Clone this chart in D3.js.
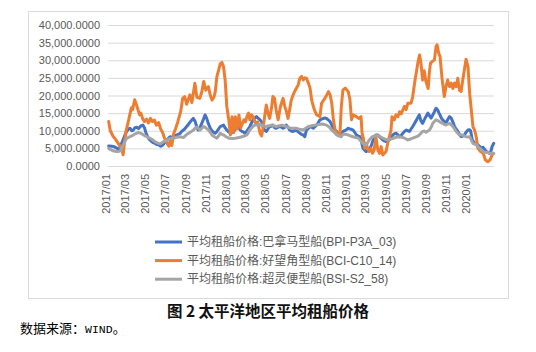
<!DOCTYPE html>
<html><head><meta charset="utf-8">
<script src="https://cdn.jsdelivr.net/npm/d3@7"></script>
<style>
html,body{margin:0;padding:0;background:#fff;}
svg{display:block;}
</style>
</head><body>
<svg id="chart" width="536" height="352"></svg>
<script>
// ---- data ----
const seriesNames = [
  "平均租船价格:巴拿马型船(BPI-P3A_03)",
  "平均租船价格:好望角型船(BCI-C10_14)",
  "平均租船价格:超灵便型船(BSI-S2_58)"
];
const seriesColors = ["#4472C4", "#ED7D31", "#A5A5A5"];
const yTickValues = [0, 5000, 10000, 15000, 20000, 25000, 30000, 35000, 40000];
const xTickLabels = ["2017/01","2017/03","2017/05","2017/07","2017/09","2017/11","2018/01","2018/03","2018/05","2018/07","2018/09","2018/11","2019/01","2019/03","2019/05","2019/07","2019/09","2019/11","2020/01"];
const titleText = "图 2 太平洋地区平均租船价格";

const bpiP3A03 = [
["2017-01-03",5700],["2017-01-13",5600],["2017-01-19",5500],["2017-01-29",5000],["2017-02-04",4600],["2017-02-09",6000],["2017-02-14",7000],["2017-02-18",7900],["2017-02-23",9200],["2017-02-27",9800],
["2017-03-04",10500],["2017-03-09",10700],["2017-03-14",10000],["2017-03-19",10200],["2017-03-23",10800],["2017-03-29",11000],["2017-04-04",10600],["2017-04-09",11200],["2017-04-13",11500],["2017-04-17",11600],
["2017-04-22",10800],["2017-04-26",9500],["2017-05-01",8400],["2017-05-05",7700],["2017-05-10",7300],["2017-05-14",6900],["2017-05-19",6600],["2017-05-24",6400],["2017-05-29",6100],["2017-06-04",6000],
["2017-06-10",5600],["2017-06-14",5800],["2017-06-19",6200],["2017-06-24",6800],["2017-06-29",7400],["2017-07-04",7900],["2017-07-09",8300],["2017-07-14",8200],["2017-07-19",8300],["2017-07-25",8700],
["2017-07-29",8800],["2017-08-04",9000],["2017-08-09",9300],["2017-08-13",9800],["2017-08-22",10500],["2017-08-28",11200],["2017-09-04",12000],["2017-09-08",12500],["2017-09-13",13100],["2017-09-17",13500],
["2017-09-23",12600],["2017-09-28",11000],["2017-10-02",10200],["2017-10-07",10800],["2017-10-13",12100],["2017-10-17",13000],["2017-10-23",14500],["2017-10-28",13500],["2017-11-02",12000],["2017-11-08",10700],
["2017-11-13",10000],["2017-11-19",9500],["2017-11-23",9300],["2017-11-28",9800],["2017-12-03",10500],["2017-12-08",11200],["2017-12-13",11400],["2017-12-18",11600],["2017-12-23",10800],["2017-12-28",10200],
["2018-01-03",9700],["2018-01-08",9300],["2018-01-13",9500],["2018-01-18",9800],["2018-01-23",10500],["2018-01-28",11200],["2018-02-03",10800],["2018-02-07",10200],["2018-02-12",9800],["2018-02-17",9600],
["2018-02-21",9300],["2018-02-26",9800],["2018-03-03",10500],["2018-03-08",11200],["2018-03-13",12200],["2018-03-18",13100],["2018-03-23",13600],["2018-03-28",14000],["2018-04-02",13600],["2018-04-08",13100],
["2018-04-13",12500],["2018-04-17",11200],["2018-04-22",10200],["2018-04-27",9800],["2018-05-02",10500],["2018-05-07",11200],["2018-05-12",11300],["2018-05-17",11600],["2018-05-22",10900],["2018-05-27",10700],
["2018-06-02",11000],["2018-06-07",11200],["2018-06-12",11000],["2018-06-17",10700],["2018-06-22",11000],["2018-06-27",11600],["2018-07-02",11000],["2018-07-07",10200],["2018-07-12",9900],["2018-07-17",9800],
["2018-07-22",10000],["2018-07-27",10200],["2018-08-02",9700],["2018-08-07",9300],["2018-08-12",9000],["2018-08-17",8800],["2018-08-22",8300],["2018-08-27",10200],["2018-09-02",10700],["2018-09-07",11200],
["2018-09-12",11000],["2018-09-17",10700],["2018-09-22",11200],["2018-09-27",11600],["2018-10-02",12300],["2018-10-07",13100],["2018-10-12",13300],["2018-10-17",13500],["2018-10-22",13600],["2018-10-27",13500],
["2018-11-02",13000],["2018-11-07",12600],["2018-11-12",11700],["2018-11-17",10700],["2018-11-22",10200],["2018-11-27",9800],["2018-12-02",9000],["2018-12-07",8800],["2018-12-12",9300],["2018-12-16",9800],
["2018-12-21",10000],["2018-12-26",10300],["2019-01-01",10700],["2019-01-06",10500],["2019-01-11",10400],["2019-01-16",10200],["2019-01-21",9500],["2019-01-26",8800],["2019-02-01",8500],["2019-02-06",8300],
["2019-02-10",7000],["2019-02-15",5000],["2019-02-20",4500],["2019-02-24",4100],["2019-03-01",4300],["2019-03-06",4500],["2019-03-11",5500],["2019-03-16",6900],["2019-03-21",7900],["2019-03-26",8800],
["2019-04-01",8800],["2019-04-06",8300],["2019-04-11",7900],["2019-04-16",7400],["2019-04-21",7100],["2019-04-26",6900],["2019-05-01",7100],["2019-05-06",7400],["2019-05-11",8000],["2019-05-16",8800],
["2019-05-21",9100],["2019-05-26",9300],["2019-06-01",8800],["2019-06-06",8300],["2019-06-11",8700],["2019-06-16",9300],["2019-06-21",9800],["2019-06-26",10200],["2019-07-01",10000],["2019-07-06",9800],
["2019-07-11",10500],["2019-07-16",11200],["2019-07-21",12000],["2019-07-26",12800],["2019-08-01",13800],["2019-08-05",14500],["2019-08-10",12800],["2019-08-15",12100],["2019-08-20",13100],["2019-08-25",14000],
["2019-08-31",15000],["2019-09-05",14300],["2019-09-10",13600],["2019-09-15",14500],["2019-09-20",15400],["2019-09-25",16400],["2019-09-30",15900],["2019-10-04",15000],["2019-10-07",14500],["2019-10-11",13600],
["2019-10-15",13100],["2019-10-20",12600],["2019-10-25",12100],["2019-10-30",13100],["2019-11-05",14000],["2019-11-10",13600],["2019-11-15",12500],["2019-11-20",11200],["2019-11-25",10500],["2019-11-30",9800],
["2019-12-05",9000],["2019-12-10",8300],["2019-12-15",8500],["2019-12-20",8800],["2019-12-25",9600],["2019-12-31",10200],["2020-01-05",10300],["2020-01-08",10000],["2020-01-13",7400],["2020-01-20",6400],
["2020-01-25",6200],["2020-01-30",6000],["2020-02-05",5500],["2020-02-10",5000],["2020-02-15",5300],["2020-02-19",4800],["2020-02-24",4100],["2020-02-29",3900],["2020-03-05",3600],["2020-03-10",4300],
["2020-03-13",5500],["2020-03-18",6400]
];

const bciC1014 = [
["2017-01-03",12600],["2017-01-08",10000],["2017-01-16",8500],["2017-01-25",7400],["2017-02-04",6000],["2017-02-10",5000],["2017-02-16",3200],["2017-02-20",6500],["2017-02-25",10000],["2017-03-01",11500],
["2017-03-07",14000],["2017-03-13",16500],["2017-03-17",16000],["2017-03-23",18800],["2017-03-28",17500],["2017-04-02",16000],["2017-04-07",14500],["2017-04-11",15000],["2017-04-16",13500],["2017-04-22",12600],
["2017-04-28",13300],["2017-05-04",12200],["2017-05-10",13500],["2017-05-16",12600],["2017-05-22",13000],["2017-05-28",11600],["2017-06-04",12300],["2017-06-10",10500],["2017-06-16",9500],["2017-06-22",7800],
["2017-06-26",7400],["2017-07-01",6200],["2017-07-05",5600],["2017-07-10",7500],["2017-07-14",5800],["2017-07-19",9000],["2017-07-25",10500],["2017-08-01",12500],["2017-08-07",14500],["2017-08-10",15500],
["2017-08-16",19200],["2017-08-22",19700],["2017-08-28",17500],["2017-09-07",20200],["2017-09-13",18000],["2017-09-22",23500],["2017-09-28",19500],["2017-10-07",19200],["2017-10-13",21000],["2017-10-19",24000],
["2017-10-25",21500],["2017-11-02",22500],["2017-11-08",20000],["2017-11-13",18700],["2017-11-19",19500],["2017-11-23",21100],["2017-11-28",25400],["2017-12-04",27500],["2017-12-08",29000],["2017-12-13",29400],
["2017-12-18",28200],["2017-12-23",24400],["2017-12-28",16900],["2018-01-03",13100],["2018-01-08",8800],["2018-01-13",14000],["2018-01-18",9500],["2018-01-23",14000],["2018-01-28",10500],["2018-02-03",14500],
["2018-02-08",10800],["2018-02-18",13100],["2018-02-23",12500],["2018-02-27",14000],["2018-03-04",15000],["2018-03-08",13100],["2018-03-13",14500],["2018-03-18",14000],["2018-03-25",12200],["2018-04-01",12500],
["2018-04-08",9300],["2018-04-13",8500],["2018-04-17",10700],["2018-04-22",14000],["2018-04-27",17300],["2018-05-02",15000],["2018-05-07",13500],["2018-05-13",16500],["2018-05-17",19700],["2018-05-22",19200],
["2018-05-27",15900],["2018-06-02",13100],["2018-06-09",16900],["2018-06-17",19200],["2018-06-22",17000],["2018-06-27",15500],["2018-07-02",13500],["2018-07-07",16000],["2018-07-12",18700],["2018-07-17",20000],
["2018-07-22",21100],["2018-07-27",22000],["2018-08-02",23000],["2018-08-07",24900],["2018-08-12",25400],["2018-08-17",24400],["2018-08-22",25000],["2018-08-27",24900],["2018-09-02",23500],["2018-09-07",22100],
["2018-09-12",18700],["2018-09-17",16900],["2018-09-22",15500],["2018-09-27",14500],["2018-10-02",14300],["2018-10-07",14000],["2018-10-12",17800],["2018-10-17",18500],["2018-10-22",19200],["2018-10-27",20000],
["2018-11-02",21100],["2018-11-07",20200],["2018-11-12",17800],["2018-11-17",13100],["2018-11-22",10200],["2018-11-27",9500],["2018-12-02",8800],["2018-12-07",9300],["2018-12-11",16900],["2018-12-16",21600],
["2018-12-23",22100],["2019-01-01",21100],["2019-01-06",19000],["2019-01-11",13100],["2019-01-16",14500],["2019-01-26",14000],["2019-02-03",13500],["2019-02-09",14000],["2019-02-12",9300],["2019-02-16",7900],
["2019-02-20",5000],["2019-02-25",6400],["2019-03-01",5000],["2019-03-06",4100],["2019-03-11",5000],["2019-03-16",3600],["2019-03-21",4500],["2019-03-26",8300],["2019-04-01",4500],["2019-04-06",3600],
["2019-04-11",5500],["2019-04-16",3100],["2019-04-21",3600],["2019-04-26",4100],["2019-05-01",6400],["2019-05-06",8300],["2019-05-11",10200],["2019-05-14",14000],["2019-05-21",13100],["2019-05-26",14500],
["2019-06-01",14000],["2019-06-06",15400],["2019-06-11",14800],["2019-06-16",15900],["2019-06-21",16900],["2019-06-26",16000],["2019-07-01",17800],["2019-07-11",17800],["2019-07-16",19700],["2019-07-23",24400],
["2019-07-27",26500],["2019-08-01",29500],["2019-08-06",31500],["2019-08-10",29200],["2019-08-15",24400],["2019-08-20",27000],["2019-08-25",24000],["2019-09-01",22000],["2019-09-04",26000],["2019-09-08",29200],
["2019-09-13",29600],["2019-09-20",30100],["2019-09-25",33900],["2019-09-28",34400],["2019-10-03",32000],["2019-10-07",31100],["2019-10-13",24900],["2019-10-20",19700],["2019-10-25",22500],["2019-10-30",24400],
["2019-11-05",22500],["2019-11-10",23500],["2019-11-15",22000],["2019-11-20",23500],["2019-11-25",22500],["2019-11-30",24900],["2019-12-05",21500],["2019-12-10",21100],["2019-12-15",24400],["2019-12-20",27300],
["2019-12-25",30300],["2019-12-31",28200],["2020-01-05",20600],["2020-01-10",15900],["2020-01-15",11200],["2020-01-20",10200],["2020-01-25",8300],["2020-01-30",5000],["2020-02-07",4100],["2020-02-15",3600],
["2020-02-22",1700],["2020-02-29",1200],["2020-03-07",1700],["2020-03-13",3100],["2020-03-18",3600]
];

const bsiS258 = [
["2017-01-03",5000],["2017-01-08",4700],["2017-01-14",4400],["2017-01-22",4200],["2017-01-29",4100],["2017-02-04",4200],["2017-02-09",4500],["2017-02-12",5200],["2017-02-16",6000],["2017-02-20",6700],
["2017-02-24",7400],["2017-02-27",7800],["2017-03-04",8100],["2017-03-11",8400],["2017-03-19",8800],["2017-03-26",9200],["2017-04-04",9500],["2017-04-09",9300],["2017-04-14",9100],["2017-04-21",8700],
["2017-04-29",8300],["2017-05-06",8000],["2017-05-14",7600],["2017-05-21",7100],["2017-05-29",6600],["2017-06-04",6400],["2017-06-09",6300],["2017-06-14",6600],["2017-06-19",6900],["2017-06-26",7200],
["2017-07-04",7600],["2017-07-11",7800],["2017-07-19",7900],["2017-07-26",8100],["2017-08-04",8300],["2017-08-11",8200],["2017-08-19",8100],["2017-08-26",8800],["2017-09-03",9300],["2017-09-10",9700],
["2017-09-18",10200],["2017-09-23",10800],["2017-09-28",11000],["2017-10-03",10600],["2017-10-08",10200],["2017-10-13",10700],["2017-10-18",11200],["2017-10-23",11000],["2017-10-28",10600],["2017-11-03",10200],
["2017-11-08",9500],["2017-11-13",8800],["2017-11-20",8300],["2017-11-28",7900],["2017-12-03",8500],["2017-12-08",9300],["2017-12-13",9000],["2017-12-18",8800],["2017-12-26",8300],["2018-01-03",7900],
["2018-01-13",7800],["2018-01-23",7900],["2018-02-03",8100],["2018-02-12",8300],["2018-02-19",8500],["2018-02-27",8800],["2018-03-03",9400],["2018-03-08",10200],["2018-03-15",11000],["2018-03-23",11600],
["2018-04-03",11700],["2018-04-13",11600],["2018-04-20",11400],["2018-04-27",11200],["2018-05-05",11400],["2018-05-12",11600],["2018-05-20",11400],["2018-05-27",11200],["2018-06-05",11400],["2018-06-12",11600],
["2018-06-20",11400],["2018-06-27",11200],["2018-07-05",10900],["2018-07-12",10700],["2018-07-20",10700],["2018-07-27",10700],["2018-08-07",10400],["2018-08-17",10200],["2018-08-25",10700],["2018-09-02",11200],
["2018-09-12",11400],["2018-09-22",11600],["2018-10-02",11800],["2018-10-12",11900],["2018-10-20",11800],["2018-10-27",11600],["2018-11-05",11000],["2018-11-12",10200],["2018-11-20",9500],["2018-11-27",8800],
["2018-12-04",8500],["2018-12-11",8300],["2018-12-16",9000],["2018-12-24",9000],["2019-01-01",8800],["2019-01-09",8500],["2019-01-16",8300],["2019-01-24",8100],["2019-02-01",7900],["2019-02-08",7100],
["2019-02-15",6400],["2019-02-20",6100],["2019-02-24",6000],["2019-03-01",6600],["2019-03-06",7400],["2019-03-11",7900],["2019-03-16",8300],["2019-03-24",8600],["2019-04-01",8800],["2019-04-08",8300],
["2019-04-16",7900],["2019-04-23",7600],["2019-05-01",7400],["2019-05-08",7600],["2019-05-16",7800],["2019-05-24",8100],["2019-06-01",8300],["2019-06-08",8200],["2019-06-16",8100],["2019-06-23",7800],
["2019-07-01",7400],["2019-07-08",7600],["2019-07-16",7900],["2019-07-24",8200],["2019-08-01",8500],["2019-08-05",8800],["2019-08-10",9300],["2019-08-15",9800],["2019-08-20",9900],["2019-08-25",9600],
["2019-08-31",9900],["2019-09-05",10200],["2019-09-10",11000],["2019-09-15",12100],["2019-09-20",12600],["2019-09-25",13100],["2019-09-30",12900],["2019-10-05",12600],["2019-10-10",12300],["2019-10-15",12100],
["2019-10-20",11800],["2019-10-25",11600],["2019-10-30",11900],["2019-11-05",12100],["2019-11-10",11700],["2019-11-15",11200],["2019-11-20",10500],["2019-11-25",9800],["2019-11-30",9300],["2019-12-05",8800],
["2019-12-10",8800],["2019-12-15",8800],["2019-12-20",8500],["2019-12-25",8300],["2019-12-31",8200],["2020-01-05",8300],["2020-01-10",7400],["2020-01-15",6400],["2020-01-20",6200],["2020-01-25",6000],
["2020-01-30",5500],["2020-02-05",5000],["2020-02-10",4500],["2020-02-15",4100],["2020-02-22",3900],["2020-02-29",3800],["2020-03-07",3700],["2020-03-18",3600]
];

const seriesData = [bpiP3A03, bciC1014, bsiS258];

// ---- drawing ----
const parse = d3.timeParse("%Y-%m-%d");
const parseTick = d3.timeParse("%Y/%m");
const svg = d3.select("#chart");
const fontLatin = "'Liberation Sans','Noto Sans CJK SC',sans-serif";
const fontCJK = "'Noto Sans CJK SC','Liberation Sans',sans-serif";

svg.append("rect").attr("x",0).attr("y",0).attr("width",536).attr("height",352).attr("fill","#fff");
svg.append("rect").attr("x",28.5).attr("y",11.5).attr("width",480).attr("height",287)
  .attr("fill","none").attr("stroke","#D9D9D9").attr("stroke-width",1);

const plot = {left:108, right:494, top:25, bottom:166};
const x = d3.scaleTime().domain([new Date(2017,0,1), new Date(2020,2,19)]).range([plot.left, plot.right]);
const y = d3.scaleLinear().domain([0,40000]).range([plot.bottom, plot.top]);

// y axis + gridlines
const yAxis = d3.axisLeft(y).tickValues(yTickValues)
  .tickSizeInner(-(plot.right-plot.left)).tickSizeOuter(0).tickPadding(8)
  .tickFormat(d3.format(",.4f"));
const gy = svg.append("g").attr("transform",`translate(${plot.left},0)`).call(yAxis);
gy.select(".domain").remove();
gy.selectAll(".tick line").attr("stroke","#D9D9D9").attr("stroke-width",1);
gy.selectAll(".tick text").attr("fill","#595959").style("font-family",fontLatin).style("font-size","11px");

// x axis
const xAxis = d3.axisBottom(x).tickValues(xTickLabels.map(parseTick))
  .tickSize(0).tickFormat(d3.timeFormat("%Y/%m"));
const gx = svg.append("g").attr("transform",`translate(0,${plot.bottom})`).call(xAxis);
gx.select(".domain").remove();
gx.selectAll(".tick text")
  .attr("transform","rotate(-90)")
  .attr("text-anchor","end")
  .attr("x",-8).attr("y",-2.5).attr("dy","0.35em")
  .attr("fill","#595959").style("font-family",fontLatin).style("font-size","11px");

// lines
const line = d3.line().x(d=>x(parse(d[0]))).y(d=>y(d[1]));
seriesData.forEach((s,i)=>{
  svg.append("path").datum(s).attr("d",line)
    .attr("fill","none").attr("stroke",seriesColors[i])
    .attr("stroke-width",3).attr("stroke-linejoin","round").attr("stroke-linecap","round");
});

// legend
const legend = svg.append("g");
seriesNames.forEach((n,i)=>{
  const yy = 242 + i*18.6;
  legend.append("line").attr("x1",155).attr("x2",182).attr("y1",yy).attr("y2",yy)
    .attr("stroke",seriesColors[i]).attr("stroke-width",3);
  legend.append("text").attr("x",187).attr("y",yy).attr("dy","0.35em")
    .attr("fill","#595959").style("font-family",fontLatin).style("font-size","12px").text(n);
});

// title
svg.append("text").attr("x",268).attr("y",317).attr("text-anchor","middle")
  .attr("fill","#111").style("font-family",fontCJK).style("font-size","15.5px").style("font-weight","bold")
  .style("white-space","pre").attr("xml:space","preserve")
  .text(titleText);

// source
const src = svg.append("text").attr("x",20).attr("y",333).attr("fill","#000")
  .style("font-family",fontCJK).style("font-size","13px");
src.append("tspan").text("数据来源：");
src.append("tspan").style("font-family","'Liberation Mono',monospace").style("font-size","11.5px").text("WIND");
src.append("tspan").text("。");
</script>
</body></html>
